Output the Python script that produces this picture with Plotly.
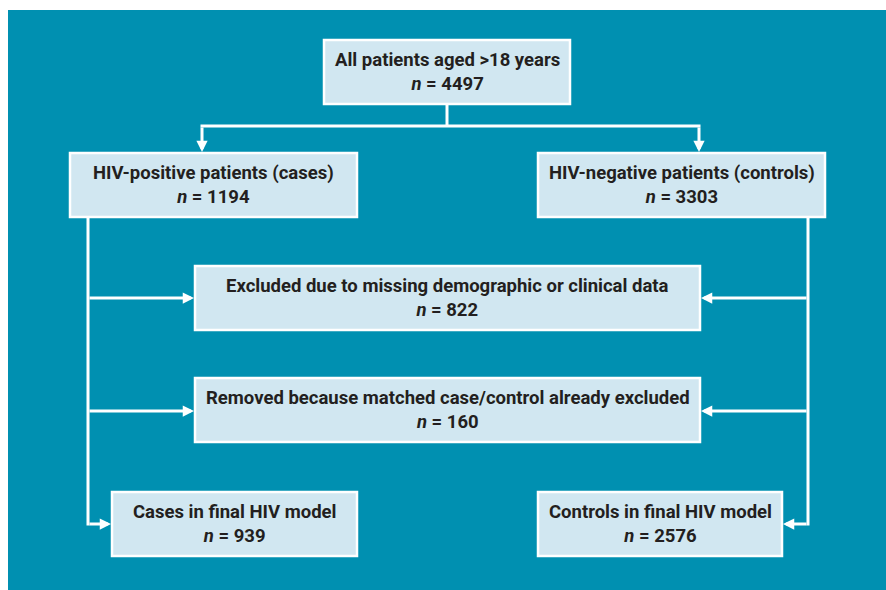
import plotly.graph_objects as go

# ---- data ----
box_titles = [
    "All patients aged &gt;18 years",
    "HIV-positive patients (cases)",
    "HIV-negative patients (controls)",
    "Excluded due to missing demographic or clinical data",
    "Removed because matched case/control already excluded",
    "Cases in final HIV model",
    "Controls in final HIV model",
]
box_n = [4497, 1194, 3303, 822, 160, 939, 2576]

# ---- layout (pixel-space boxes: x0, y0, x1, y1) ----
boxes = [
    (324, 40, 570, 104),
    (70, 153, 357, 217),
    (538, 153, 825, 217),
    (195, 266, 700, 330),
    (195, 378, 700, 442),
    (112, 492, 357, 556),
    (538, 492, 782, 556),
]
W, H = 886, 590
TEAL = "#0090B1"
FILL = "#D1E7F1"
TXT = "#231F20"
LW = 3

fig = go.Figure()
shapes = []
annotations = []

# white outer margin on top and left (panel is teal everywhere else)
shapes.append(dict(type="rect", x0=-5, y0=-5, x1=W + 20, y1=10, xref="x", yref="y",
                   fillcolor="white", line=dict(width=0), layer="below"))
shapes.append(dict(type="rect", x0=-5, y0=-5, x1=8, y1=H + 20, xref="x", yref="y",
                   fillcolor="white", line=dict(width=0), layer="below"))

def line(x0, y0, x1, y1):
    shapes.append(dict(type="line", x0=x0, y0=y0, x1=x1, y1=y1, xref="x", yref="y",
                       line=dict(color="white", width=LW)))

def arrow(x0, y0, x1, y1):
    annotations.append(dict(x=x1, y=y1, ax=x0, ay=y0, xref="x", yref="y",
                            axref="x", ayref="y", showarrow=True, text="",
                            arrowhead=2, arrowsize=0.75, arrowwidth=LW,
                            arrowcolor="white", standoff=0, startstandoff=0))

# connectors
line(447, 104, 447, 126)
line(200.5, 126, 700.5, 126)
arrow(202, 126, 202, 152)
arrow(699, 126, 699, 152)
line(88, 217, 88, 525.5)
line(808, 217, 808, 525.5)
arrow(88, 298, 194, 298)
arrow(808, 298, 701, 298)
arrow(88, 411, 194, 411)
arrow(808, 411, 701, 411)
arrow(88, 524, 111, 524)
arrow(808, 524, 783, 524)

for (x0, y0, x1, y1), t, n in zip(boxes, box_titles, box_n):
    shapes.append(dict(type="rect", x0=x0, y0=y0, x1=x1, y1=y1, xref="x", yref="y",
                       fillcolor=FILL, line=dict(color="white", width=2.5)))
    annotations.append(dict(x=(x0 + x1) / 2, y=(y0 + y1) / 2, xref="x", yref="y",
                            showarrow=False,
                            text=f"<b>{t}</b><br><b><i>n</i> = {n}</b>",
                            font=dict(family="Roboto", size=18.5, color=TXT),
                            align="center"))

fig.update_layout(
    width=W, height=H,
    margin=dict(l=0, r=0, t=0, b=0),
    paper_bgcolor=TEAL, plot_bgcolor=TEAL,
    xaxis=dict(range=[0, W], visible=False, fixedrange=True),
    yaxis=dict(range=[H, 0], visible=False, fixedrange=True),
    shapes=shapes, annotations=annotations,
    showlegend=False,
)
fig.write_html(
    "out.html", config={"displayModeBar": False},
    post_script=(
        "document.body.style.margin='0';"
        "document.body.style.overflow='hidden';"
        f"document.body.style.background='{TEAL}';"
        f"document.documentElement.style.background='{TEAL}';"
    ),
)
